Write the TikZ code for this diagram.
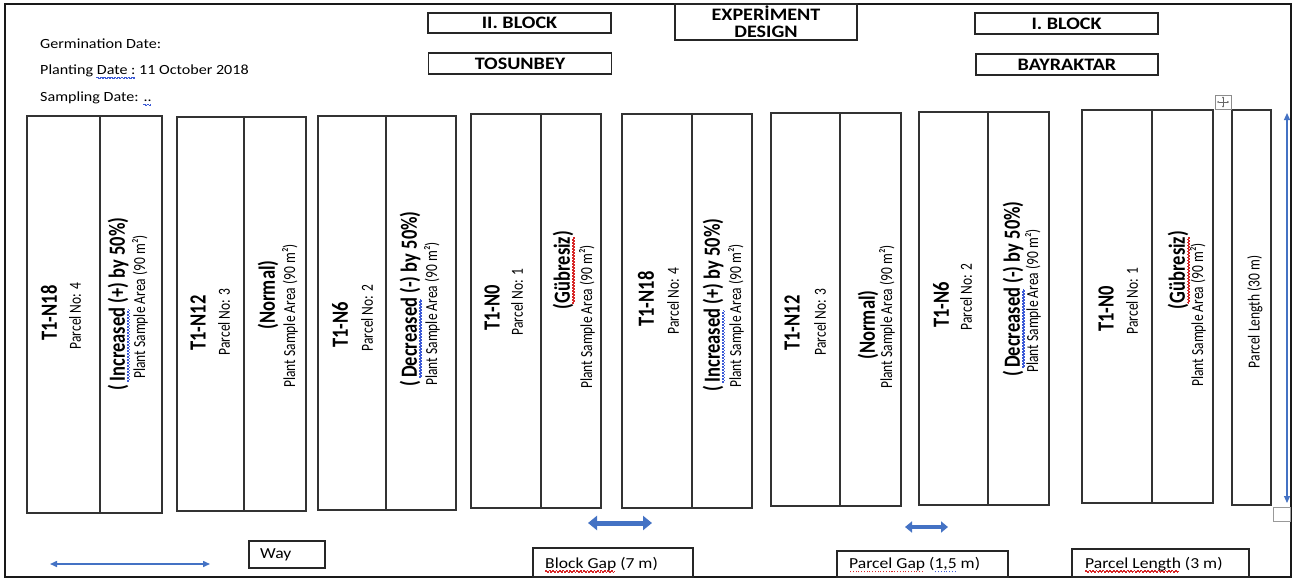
\documentclass[tikz,border=0pt]{standalone}
\usepackage{fontspec}
\setmainfont{Carlito}
\usepackage{graphicx}
\usetikzlibrary{arrows.meta}
\definecolor{ablue}{RGB}{68,114,196}
\definecolor{wred}{RGB}{215,40,40}
\definecolor{wblue}{RGB}{60,90,215}
\newsavebox\wvR
\newsavebox\wvB
\newsavebox\dtR
\newsavebox\dtB
\newsavebox\ulbox
\sbox\wvR{\color{wred}\setlength\unitlength{1pt}\linethickness{0.7pt}\begin{picture}(3,0)\qbezier(0,-3)(0.75,-1.6)(1.5,-3)\qbezier(1.5,-3)(2.25,-4.4)(3,-3)\end{picture}}
\sbox\wvB{\color{wblue}\setlength\unitlength{1pt}\linethickness{0.7pt}\begin{picture}(3,0)\qbezier(0,-3)(0.75,-1.6)(1.5,-3)\qbezier(1.5,-3)(2.25,-4.4)(3,-3)\end{picture}}
\sbox\dtR{\hbox to 2.4pt{\hss\color{wred}\rule[-3.4pt]{0.9pt}{0.9pt}\hss}}
\sbox\dtB{\hbox to 2.4pt{\hss\color{wblue}\rule[-3.4pt]{0.9pt}{0.9pt}\hss}}
\newcommand\mkline[2]{\sbox\ulbox{#2}\rlap{\hbox to \wd\ulbox{\leaders\copy#1\hfill}}\usebox\ulbox}
\newcommand\rwave[1]{\mkline\wvR{#1}}
\newcommand\bwave[1]{\mkline\wvB{#1}}
\newcommand\rdots[1]{\mkline\dtR{#1}}
\newcommand\bdots[1]{\mkline\dtB{#1}}
\newcommand\hs[1]{\scalebox{1.15}[1]{#1}}
\newcommand\vs[1]{\scalebox{1}[1.25]{#1}}
\tikzset{
  cellln/.style={draw=black!80, line width=1.2pt},
  tbox/.style={draw=black!85, line width=1.2pt, inner sep=0pt, font=\bfseries\fontsize{17.5}{17}\selectfont},
  body/.style={inner sep=0pt, anchor=west, font=\fontsize{14}{15}\selectfont},
  bbody/.style={inner sep=0pt, anchor=west, font=\fontsize{15.3}{16}\selectfont},
  rb/.style={rotate=90, inner sep=0pt, font=\bfseries\fontsize{18.5}{19}\selectfont},
  rr/.style={rotate=90, inner sep=0pt, font=\fontsize{13.5}{14}\selectfont},
  thinarrow/.style={ablue, line width=1.5pt, {Triangle[length=7pt,width=6pt]}-{Triangle[length=7pt,width=6pt]}},
  fatarrow/.style={ablue, line width=5pt, {Triangle[length=9pt,width=14pt]}-{Triangle[length=9pt,width=14pt]}},
}
\begin{document}
\begin{tikzpicture}[x=1pt,y=-1pt]
\useasboundingbox (0,0) rectangle (1296,581);
\fill[white] (0,0) rectangle (1296,581);
% outer frame
\draw[line width=2pt, black!90] (5,4) rectangle (1291,577);

% header texts
\node[body] (germ) at (40,44) {\hs{Germination Date:}};
\node[body] (plant) at (40,71) {\hs{Planting \bwave{Date :} 11 October 2018}};
\node[body] (samp) at (40,98) {\hs{Sampling Date: \bwave{..}}};

% title boxes
\node[tbox, minimum width=183pt, minimum height=20pt] (blk2) at (519.5,23) {\hs{II. BLOCK}};
\node[tbox, minimum width=183pt, minimum height=21pt] (tos) at (520,63.5) {\hs{TOSUNBEY}};
\node[tbox, minimum width=182pt, minimum height=36pt, align=center] (exp) at (766,22) {\hs{EXPERİMENT}\\\hs{DESIGN}};
\node[tbox, minimum width=183pt, minimum height=21pt] (blk1) at (1066.5,23.5) {\hs{I. BLOCK}};
\node[tbox, minimum width=182pt, minimum height=21pt] (bay) at (1067,64.5) {\hs{BAYRAKTAR}};

% parcel rectangles
\foreach \a/\b/\c/\t/\u in {27/100/162/116/513, 177/244/306/117/511, 318/386/456/116/510, 471/541/601/114/508, 622/692/752/114/508, 771/840/901/113/506, 919/988/1049/112/505, 1082/1152/1213/110/503}{
  \draw[cellln] (\a,\t) rectangle (\c,\u);
  \draw[cellln] (\b,\t) -- (\b,\u);
}
\draw[cellln] (1232,110) rectangle (1271,505);

% pair 1
\node[rb] (p1a) at (49,313) {\vs{T1-N18}};
\node[rr] (p1b) at (75,316) {\vs{Parcel No: 4}};
\node[rb] (p1c) at (118,304) {\vs{(\,\bwave{Increased} (+) by 50\%)}};
\node[rr] (p1d) at (140,307) {\vs{Plant Sample Area (90 m²)}};
% pair 2
\node[rb] (p2a) at (198,323) {\vs{T1-N12}};
\node[rr] (p2b) at (224,322) {\vs{Parcel No: 3}};
\node[rb] (p2c) at (268,295) {\vs{(Normal)}};
\node[rr] (p2d) at (290,316) {\vs{Plant Sample Area (90 m²)}};
% pair 3
\node[rb] (p3a) at (340,325) {\vs{T1-N6}};
\node[rr] (p3b) at (367,318) {\vs{Parcel No: 2}};
\node[rb] (p3c) at (410,299) {\vs{(\,\bwave{Decreased} (-) by 50\%)}};
\node[rr] (p3d) at (432,314) {\vs{Plant Sample Area (90 m²)}};
% pair 4
\node[rb] (p4a) at (492,308) {\vs{T1-N0}};
\node[rr] (p4b) at (517,302) {\vs{Parcel No: 1}};
\node[rb] (p4c) at (563,270) {\vs{(\rwave{Gübresiz})}};
\node[rr] (p4d) at (587,317) {\vs{Plant Sample Area (90 m²)}};
% pair 5
\node[rb] (p5a) at (646,299) {\vs{T1-N18}};
\node[rr] (p5b) at (673,301) {\vs{Parcel No: 4}};
\node[rb] (p5c) at (713,305) {\vs{(\,\bwave{Increased} (+) by 50\%)}};
\node[rr] (p5d) at (736,316) {\vs{Plant Sample Area (90 m²)}};
% pair 6
\node[rb] (p6a) at (792,323) {\vs{T1-N12}};
\node[rr] (p6b) at (820,322) {\vs{Parcel No: 3}};
\node[rb] (p6c) at (868,325) {\vs{(Normal)}};
\node[rr] (p6d) at (887,317) {\vs{Plant Sample Area (90 m²)}};
% pair 7
\node[rb] (p7a) at (941,305) {\vs{T1-N6}};
\node[rr] (p7b) at (966,297) {\vs{Parcel No: 2}};
\node[rb] (p7c) at (1013,289) {\vs{(\,\bwave{Decreased} (-) by 50\%)}};
\node[rr] (p7d) at (1033,301) {\vs{Plant Sample Area (90 m²)}};
% pair 8
\node[rb] (p8a) at (1106,309) {\vs{T1-N0}};
\node[rr] (p8b) at (1132,301) {\vs{Parcel No: 1}};
\node[rb] (p8c) at (1178,270) {\vs{(\rwave{Gübresiz})}};
\node[rr] (p8d) at (1198,315) {\vs{Plant Sample Area (90 m²)}};
% length cell
\node[rr] (plen) at (1255,312) {\vs{Parcel Length (30 m)}};

% move handle icon
\draw[black!45, line width=0.6pt] (1215,95) rectangle (1231,109);
\draw[black!60, line width=0.5pt, {Triangle[length=1.6pt,width=2pt]}-{Triangle[length=1.6pt,width=2pt]}] (1217,102) -- (1229,102);
\draw[black!60, line width=0.5pt, {Triangle[length=1.6pt,width=2pt]}-{Triangle[length=1.6pt,width=2pt]}] (1223,96.5) -- (1223,107.5);
% small handle square
\draw[black!40, line width=0.6pt] (1273,507) rectangle (1290,521);

% arrows
\coordinate (wl) at (50,564);
\coordinate (wr) at (210,564);
\draw[thinarrow] (wl) -- (wr);
\coordinate (vt) at (1287,113);
\coordinate (vb) at (1287,503);
\draw[ablue, line width=1.2pt, {Triangle[length=7pt,width=6pt]}-{Triangle[length=7pt,width=6pt]}] (vt) -- (vb);
\coordinate (bgl) at (588,523);
\coordinate (bgr) at (652,523);
\draw[fatarrow] (bgl) -- (bgr);
\coordinate (pgl) at (905,527);
\coordinate (pgr) at (948,527);
\draw[ablue, line width=4pt, {Triangle[length=7pt,width=11pt]}-{Triangle[length=7pt,width=11pt]}] (pgl) -- (pgr);

% bottom boxes
\draw[line width=1.2pt, black!85] (249,541) rectangle (325,568);
\node[bbody] (way) at (260,554.5) {\hs{Way}};
\draw[line width=1.2pt, black!85] (533,548) rectangle (693,577);
\node[bbody] (bgap) at (545,564) {\hs{\rwave{Block Gap} (7 m)}};
\draw[line width=1.2pt, black!85] (837,551) rectangle (1008,577);
\node[bbody] (pgap) at (849,565) {\hs{\rdots{Parcel Gap} (\bdots{1,5} m)}};
\draw[line width=1.2pt, black!85] (1072,549) rectangle (1249,577);
\node[bbody] (plength) at (1085,564) {\hs{\rwave{Parcel Length} (3 m)}};
\end{tikzpicture}
\end{document}
